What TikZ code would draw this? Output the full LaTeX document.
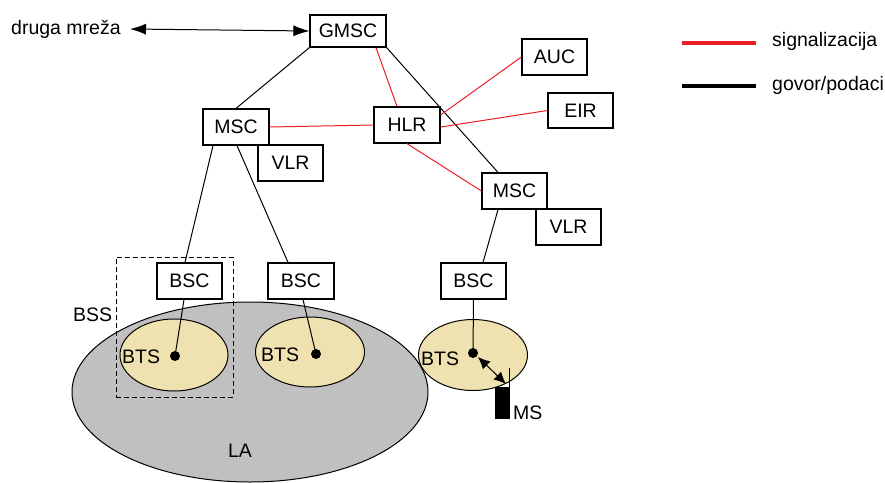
\documentclass[tikz,border=0pt]{standalone}
\usepackage{fontspec}
\setmainfont{Liberation Sans}
\usetikzlibrary{arrows.meta,shapes.geometric}
\definecolor{sig}{RGB}{235,30,40}
\definecolor{lagray}{RGB}{192,192,192}
\definecolor{cell}{RGB}{240,226,176}
\tikzset{
  box/.style={draw, fill=white, line width=1.2pt, minimum width=66pt, minimum height=36pt, inner sep=0pt, font=\fontsize{19.5}{21}\selectfont},
  lbl/.style={inner sep=0pt, font=\fontsize{19.5}{21}\selectfont},
  voice/.style={line width=1pt},
  signal/.style={sig, line width=1pt},
  cellshape/.style={ellipse, draw, fill=cell, line width=1pt, inner sep=0pt},
  dot/.style={circle, fill=black, inner sep=0pt, minimum size=10pt},
  tip/.style={{Latex[length=16pt,width=11pt]}-{Latex[length=16pt,width=11pt]}}
}
\begin{document}
\begin{tikzpicture}[x=1pt,y=-1pt]
\useasboundingbox (0,0) rectangle (885,482);
% location area
\node[ellipse, draw, fill=lagray, line width=1pt, inner sep=0pt, minimum width=356pt, minimum height=180pt] (la) at (250,392) {};
\node[lbl] (latxt) at (240,451) {LA};
% cells
\node[cellshape, minimum width=108pt, minimum height=72pt] (c1) at (174,355) {};
\node[cellshape, minimum width=109pt, minimum height=70pt] (c2) at (310,352) {};
\node[cellshape, minimum width=109pt, minimum height=71pt] (c3) at (473,355) {};
% BTS dots and labels
\node[dot] (d1) at (175,356) {};
\node[dot] (d2) at (316,354) {};
\node[dot] (d3) at (473,353) {};
\node[lbl, anchor=west] (bts1) at (122,357) {BTS};
\node[lbl, anchor=west] (bts2) at (261,355) {BTS};
\node[lbl, anchor=west] (bts3) at (421,359) {BTS};
% BSS dashed box
\node[draw, dash pattern=on 5pt off 3pt, line width=1pt, minimum width=117pt, minimum height=140pt, inner sep=0pt] (bss) at (174.5,327) {};
\node[lbl, anchor=west] (bsstxt) at (73,315) {BSS};
% boxes
\node[box, minimum width=76pt, minimum height=32pt] (gmsc) at (348,31) {GMSC};
\node[box] (msc1) at (236,127) {MSC};
\node[box, minimum width=65pt] (vlr1) at (290.5,163) {VLR};
\node[box] (hlr) at (407,125) {HLR};
\node[box, minimum width=65pt] (auc) at (554.5,57) {AUC};
\node[box, minimum width=65pt, minimum height=35pt] (eir) at (580.5,110.5) {EIR};
\node[box, minimum width=65pt] (msc2) at (514.5,191) {MSC};
\node[box, minimum width=65pt] (vlr2) at (568.5,227) {VLR};
\node[box, minimum width=65pt] (bsc1) at (189.5,281) {BSC};
\node[box] (bsc2) at (301,281) {BSC};
\node[box, minimum width=65pt] (bsc3) at (473.5,281) {BSC};
% other network
\node[lbl, anchor=west] (druga) at (11,29) {druga mreža};
\draw[tip, line width=1pt] (130,29) -- (gmsc.west);
% voice connections
\draw[voice] (gmsc.south west) -- (msc1.north);
\draw[voice] (gmsc.south east) -- (msc2.north -| 498,0);
\draw[voice] (msc1.south -| 213,0) -- (bsc1.north -| 185,0);
\draw[voice] (msc1.south -| 237,0) -- (bsc2.north -| 288,0);
\draw[voice] (msc2.south -| 498,0) -- (bsc3.north -| 483,0);
\draw[voice] (bsc1.south -| 184,0) -- (d1.center);
\draw[voice] (bsc2.south -| 303,0) -- (d2.center);
\draw[voice] (bsc3.south) -- (d3.center);
% signalling connections
\draw[signal] (gmsc.south -| 376,0) -- (hlr.north -| 397,0);
\draw[signal] (msc1.east) -- (hlr.west);
\draw[signal] (hlr.east |- 0,115) -- (auc.west);
\draw[signal] (hlr.east |- 0,127) -- (eir.west);
\draw[signal] (hlr.south) -- (msc2.west);
% mobile station
\node[fill=black, minimum width=15pt, minimum height=32pt, inner sep=0pt] (ms) at (502.5,403) {};
\coordinate (ant) at (509,368);
\draw[line width=1pt] (ant) -- (ms.north east -| ant);
\node[lbl, anchor=west] (mstxt) at (513,413) {MS};
\coordinate (a1) at (478,357);
\coordinate (a2) at (506,384);
\draw[{Latex[length=12pt,width=11pt]}-{Latex[length=12pt,width=11pt]}, line width=1pt] (a1) -- (a2);
% legend
\coordinate (r1) at (682,43); \coordinate (r2) at (756,43);
\coordinate (b1) at (682,86); \coordinate (b2) at (756,86);
\draw[sig, line width=3.5pt] (r1) -- (r2);
\draw[black, line width=3.5pt] (b1) -- (b2);
\node[lbl, anchor=west] (legsig) at (772,41) {signalizacija};
\node[lbl, anchor=west] (legvoice) at (772,85) {govor/podaci};
\end{tikzpicture}
\end{document}
